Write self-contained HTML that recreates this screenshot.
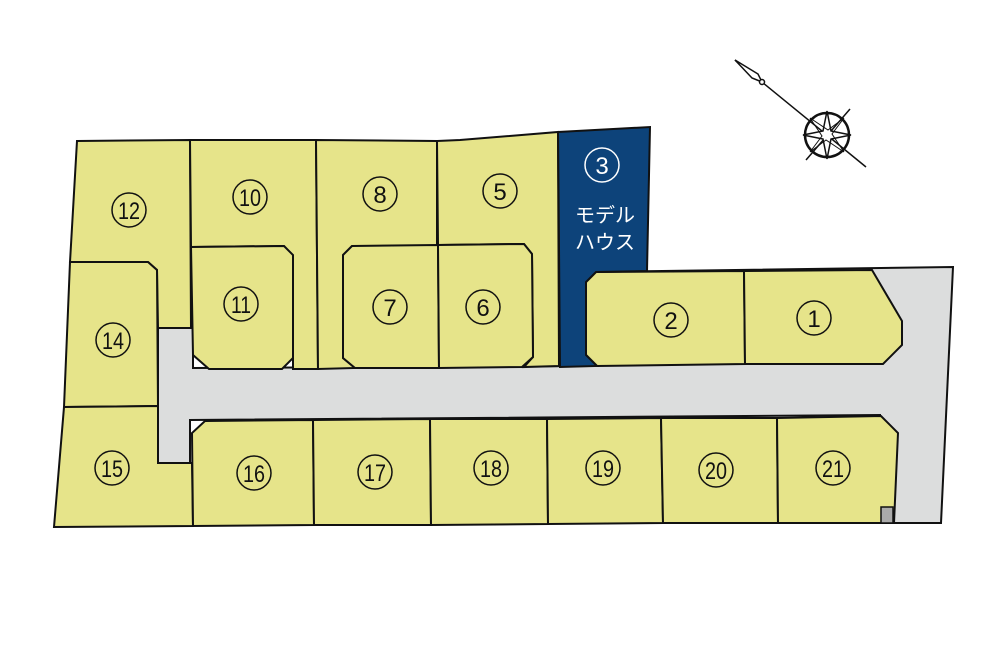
<!DOCTYPE html>
<html><head><meta charset="utf-8"><style>body{margin:0;background:#fff}svg{display:block}</style></head><body>
<svg width="1000" height="667" viewBox="0 0 1000 667" xmlns="http://www.w3.org/2000/svg">
<g stroke="#111" stroke-width="2" stroke-linejoin="miter">
<polygon fill="#dcdddd" points="158,328 193,328 193,368 590,366 590,272 953,267 941,523 880,523 880,415 190,420 190,463 158,463"/>
<g fill="#e6e48a">
<polygon points="77,141 190,140 191,328 158,328 157,270 148,262 70,262"/>
<polygon points="70,262 148,262 157,270 158,406 64,407"/>
<polygon points="64,407 158,406 158,463 192,463 193,526 54,527"/>
<polygon points="190,140 316,140 318,369 293,369 293,256 284,246 191,247"/>
<polygon points="191,247 284,246 293,255 293,358 282,369 209,369 193,355"/>
<polygon points="316,140 437,141 437,246 352,246 343,255 343,358 355,368 318,369"/>
<polygon points="352,246 438,245 439,368 355,368 343,358 343,255"/>
<polygon points="437,141 460,140 558,132 559,366 524,367 533,357 532,254 524,244 438,245"/>
<polygon points="438,245 524,244 532,254 533,357 522,367 439,368"/>
<polygon points="596,272 744,271 745,364 597,366 586,355 586,282"/>
<polygon points="744,271 872,270 902,321 902,345 883,364 745,364"/>
<polygon points="205,421 313,420 314,525 193,526 192,433"/>
<polygon points="313,420 430,419 431,525 314,525"/>
<polygon points="430,419 547,419 548,524 431,525"/>
<polygon points="547,419 661,418 663,523 548,524"/>
<polygon points="661,418 777,418 778,523 663,523"/>
<polygon points="777,418 881,416 898,433 894,523 778,523"/>
</g>
<polygon fill="#0d437a" points="558,132 650,127 647,271 596,272 586,282 586,355 597,366 560,367"/>
<rect x="881" y="507" width="12" height="16" fill="#aaa" stroke-width="1.5"/>
</g>
<g font-family="Liberation Sans, sans-serif" font-size="24" text-anchor="middle" fill="#111">
<g fill="none" stroke="#111" stroke-width="1.5">
<circle cx="129" cy="210" r="17"/><circle cx="250" cy="197" r="17"/><circle cx="380" cy="194" r="17"/><circle cx="500" cy="191" r="17"/>
<circle cx="241" cy="304" r="17"/><circle cx="390" cy="307" r="17"/><circle cx="483" cy="307" r="17"/><circle cx="113" cy="340" r="17"/>
<circle cx="112" cy="468" r="17"/><circle cx="254" cy="473" r="17"/><circle cx="375" cy="472" r="17"/><circle cx="491" cy="468" r="17"/>
<circle cx="603" cy="468" r="17"/><circle cx="716" cy="470" r="17"/><circle cx="833" cy="468" r="17"/><circle cx="671" cy="320" r="17"/>
<circle cx="814" cy="318" r="17"/><circle cx="602" cy="165" r="17" stroke="#fff"/>
</g>
<text x="129" y="219" textLength="22" lengthAdjust="spacingAndGlyphs">12</text>
<text x="250" y="206" textLength="22" lengthAdjust="spacingAndGlyphs">10</text>
<text x="380" y="203">8</text><text x="500" y="200">5</text>
<text x="241" y="313" textLength="20" lengthAdjust="spacingAndGlyphs">11</text>
<text x="390" y="316">7</text><text x="483" y="316">6</text>
<text x="113" y="349" textLength="22" lengthAdjust="spacingAndGlyphs">14</text>
<text x="112" y="477" textLength="22" lengthAdjust="spacingAndGlyphs">15</text>
<text x="254" y="482" textLength="22" lengthAdjust="spacingAndGlyphs">16</text>
<text x="375" y="481" textLength="22" lengthAdjust="spacingAndGlyphs">17</text>
<text x="491" y="477" textLength="22" lengthAdjust="spacingAndGlyphs">18</text>
<text x="603" y="477" textLength="22" lengthAdjust="spacingAndGlyphs">19</text>
<text x="716" y="479" textLength="22" lengthAdjust="spacingAndGlyphs">20</text>
<text x="833" y="477" textLength="22" lengthAdjust="spacingAndGlyphs">21</text>
<text x="671" y="329">2</text><text x="814" y="327">1</text>
<text x="602" y="174" fill="#fff">3</text>
<g font-family="Liberation Sans, 'Noto Sans CJK JP', sans-serif" font-size="20" fill="#fff">
<text x="605" y="222">モデル</text><text x="605" y="249">ハウス</text></g>
</g>
<g stroke="#111" fill="none" stroke-width="1.5">
<line x1="735" y1="60" x2="866" y2="167"/>
<polygon points="735,60 758,74 762,82 752,78" fill="#fff"/>
<circle cx="762" cy="82" r="2.5" fill="#fff"/>
<circle cx="827" cy="135" r="22" stroke-width="2.5"/>
<line x1="850" y1="109" x2="806" y2="160"/>
<polygon points="827,111 831,131 851,135 831,139 827,159 823,139 803,135 823,131" fill="#fff"/>
<polygon points="844,118 832,134 844,152 826,140 810,152 822,136 810,118 828,130" fill="none" stroke-width="1"/>
</g>
</svg>
</body></html>
